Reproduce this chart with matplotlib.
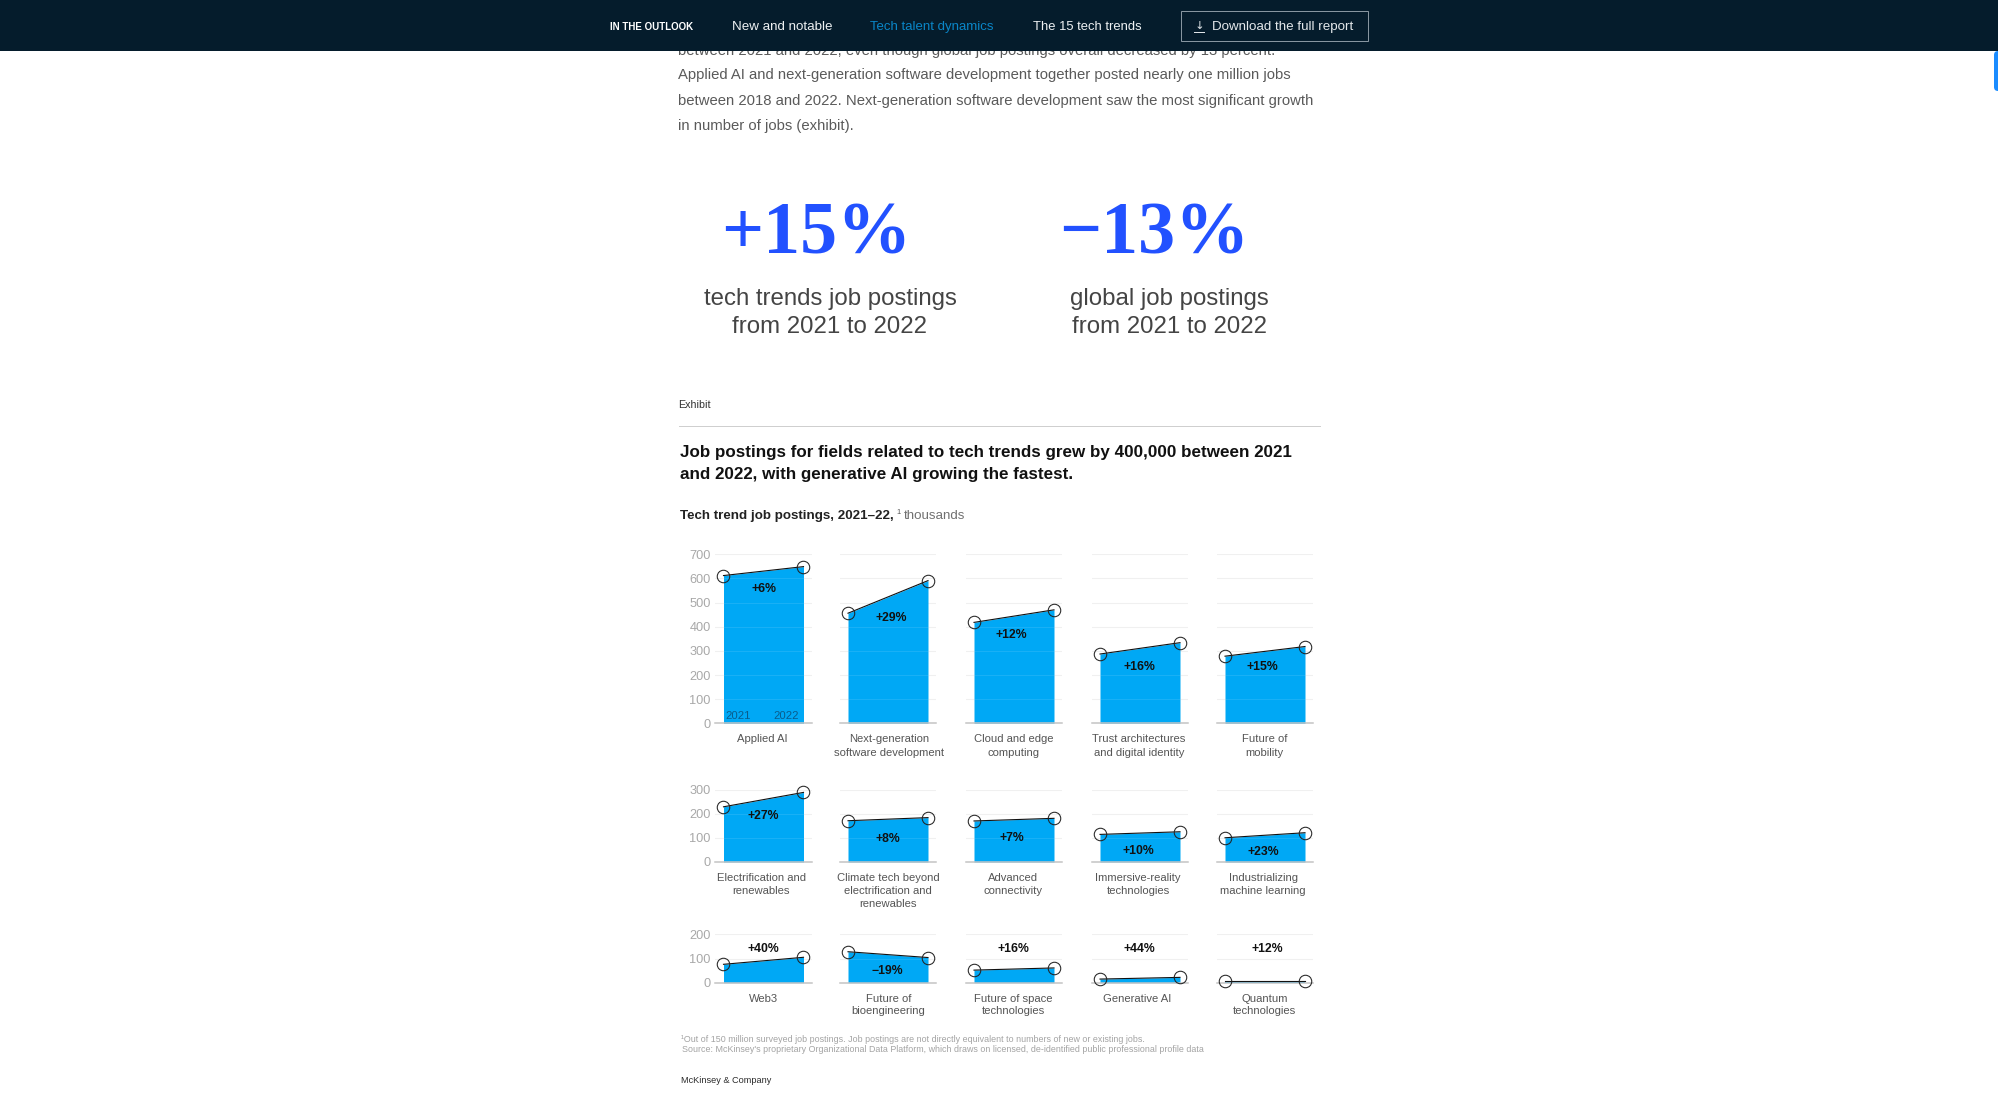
import matplotlib
matplotlib.use("Agg")
import matplotlib.pyplot as plt
from matplotlib.patches import Rectangle, FancyBboxPatch

W, H = 1999, 1096

# data, thousands of postings
row1_names = ["Applied AI", "Next-generation\nsoftware development", "Cloud and edge\ncomputing",
              "Trust architectures\nand digital identity", "Future of\nmobility"]
row1_2021 = [612, 456, 418, 287, 278]
row1_2022 = [649, 591, 470, 334, 318]
row1_pct = ["+6%", "+29%", "+12%", "+16%", "+15%"]

row2_names = ["Electrification and\nrenewables", "Climate tech beyond\nelectrification and\nrenewables",
              "Advanced\nconnectivity", "Immersive-reality\ntechnologies", "Industrializing\nmachine learning"]
row2_2021 = [230, 172, 171, 115, 101]
row2_2022 = [290, 185, 182, 126, 122]
row2_pct = ["+27%", "+8%", "+7%", "+10%", "+23%"]

row3_names = ["Web3", "Future of\nbioengineering", "Future of space\ntechnologies", "Generative AI",
              "Quantum\ntechnologies"]
row3_2021 = [76, 128, 52, 15, 8]
row3_2022 = [105, 104, 61, 22, 8]
row3_pct = ["+40%", "\u221219%", "+16%", "+44%", "+12%"]

row1_ticks = [0, 100, 200, 300, 400, 500, 600, 700]
row2_ticks = [0, 100, 200, 300]
row3_ticks = [0, 100, 200]

# layout, all in page pixels
panel_left = [715.5, 840, 966, 1092, 1217]
panel_w = 96.5
row1_box = (723.3, 554.3)
row2_box = (862, 790)
row3_box = (982.7, 934.3)
row1_name_x = [762, 889, 1013.4, 1139, 1264.5]
row2_name_x = [761.5, 888, 1013.4, 1138, 1263]
row3_name_x = [763.6, 888.5, 1013.4, 1137, 1264.5]
row1_pct_xy = [(763.6, 587), (891.6, 616.7), (1011.7, 633.3), (1139.6, 666), (1262.8, 666)]
row2_pct_xy = [(762.8, 814.3), (887.7, 837.7), (1011.7, 836.3), (1138.3, 849.3), (1263.6, 850.7)]
row3_pct_xy = [(763.6, 947.3), (887.7, 969.3), (1013.4, 947.3), (1139.2, 947.3), (1267.5, 947.3)]

SANS = ["Liberation Sans", "DejaVu Sans"]
SERIF = ["Liberation Serif", "DejaVu Serif"]
BLUE = "#00a8f5"
NAVY = "#051c2c"

fig = plt.figure(figsize=(W / 100, H / 100), dpi=100, facecolor="white")


def put(x, y, s, size, color="#222222", weight="normal", ha="left", family=SANS, zorder=3, **kw):
    # page pixels, y measured from the top, nudged to sit like the reference
    return fig.text(x / W, 1 - (y + 1.5) / H, s, fontsize=size * 0.72, color=color, fontweight=weight,
                    ha=ha, va="center", family=family, zorder=zorder, **kw)


def page_rect(x, y, w, h, zorder=5, **kw):
    fig.add_artist(Rectangle((x / W, 1 - (y + h) / H), w / W, h / H, transform=fig.transFigure,
                             zorder=zorder, **kw))


def draw_row(box, ticks, top_tick, names, v21, v22, pct, name_x, pct_xy, name_y):
    y0, ytop = box
    for i in range(5):
        ax = fig.add_axes([panel_left[i] / W, 1 - y0 / H, panel_w / W, (y0 - ytop) / H])
        ax.patch.set_alpha(0)
        x = [0, 1]
        vals = [v21[i], v22[i]]
        ax.fill_between(x, [0, 0], vals, color=BLUE, lw=0, zorder=1)
        for t in ticks[1:]:
            ax.axhline(t, color="#f0f0f0", lw=0.8, zorder=0.5)
            ax.plot(x, [t, t], color="white", lw=0.8, alpha=0.1 if t < min(vals) else 0, zorder=2)
        ax.axhline(0, color="#c4c4c4", lw=1.1, zorder=2, clip_on=False)
        ax.plot(x, vals, color="#111111", lw=0.8, zorder=3, clip_on=False)
        ax.plot(x, vals, ls="none", marker="o", ms=9.0, mfc="none", mec="#222222", mew=0.75,
                zorder=4, clip_on=False)
        ax.set_xlim(-8 / 80, 88.5 / 80)
        ax.set_ylim(0, top_tick)
        for s in ax.spines.values():
            s.set_visible(False)
        ax.set_xticks([])
        if i == 0:
            ax.set_yticks(ticks)
            ax.tick_params(axis="y", length=0, pad=3.5, labelcolor="#a8a8a8", labelsize=9.2)
            for lab in ax.get_yticklabels():
                lab.set_family(SANS)
        else:
            ax.set_yticks([])
        for j, line in enumerate(names[i].split("\n")):
            put(name_x[i], name_y + j * 13, line, 11.2, color="#555555", ha="center")
        put(pct_xy[i][0], pct_xy[i][1], pct[i], 12.2, color="#111111", weight="bold", ha="center", zorder=6)


# nav bar
page_rect(0, 0, W, 51, facecolor=NAVY, edgecolor="none", zorder=5)
put(610, 25.5, "IN THE OUTLOOK", 9.8, color="white", weight="bold", zorder=6)
put(732, 25.5, "New and notable", 13.4, color="#eef1f3", zorder=6)
put(870, 25.5, "Tech talent dynamics", 13.3, color="#0a86c8", zorder=6)
put(1033, 25.5, "The 15 tech trends", 13, color="#eef1f3", zorder=6)
page_rect(1180.5, 11, 187.5, 29.5, facecolor="none", edgecolor="#8c99a4", linewidth=0.7, zorder=6)
put(1199.5, 24.5, "\u2193", 11.5, color="#dfe4e8", ha="center", family=["DejaVu Sans"], zorder=6)
page_rect(1194, 32, 11, 0.9, facecolor="#dfe4e8", edgecolor="none", zorder=6)
put(1212.5, 25.5, "Download the full report", 13.4, color="#e4e8eb", zorder=6)

# scroll tab on the right edge
fig.add_artist(FancyBboxPatch((1994 / W, 1 - 91 / H), 12 / W, 40 / H, boxstyle="round,pad=0,rounding_size=0.002",
                              transform=fig.transFigure, facecolor="#1a8cff", edgecolor="none", zorder=4,
                              mutation_aspect=W / H))

# body text, first line runs under the nav bar
body = ["between 2021 and 2022, even though global job postings overall decreased by 13 percent.",
        "Applied AI and next-generation software development together posted nearly one million jobs",
        "between 2018 and 2022. Next-generation software development saw the most significant growth",
        "in number of jobs (exhibit)."]
for k, yy in enumerate([49.5, 73.5, 99, 124.5]):
    put(678, yy, body[k], 14.95, color="#5a5a5a", zorder=2)

# big numbers
put(816, 234, "+15%", 74, color="#2251ff", weight="bold", ha="center", family=SERIF)
put(1154, 234, "\u221213%", 74, color="#2251ff", weight="bold", ha="center", family=SERIF)
put(830, 297, "tech trends job postings", 24, color="#444444", ha="center")
put(830, 325.5, "from 2021 to 2022", 24, color="#444444", ha="center")
put(1169.5, 297, "global job postings", 24, color="#444444", ha="center")
put(1169.5, 325.5, "from 2021 to 2022", 24, color="#444444", ha="center")

# exhibit header
put(678.5, 404, "Exhibit", 10.8, color="#333333")
page_rect(678.5, 425.5, 642.5, 1.2, facecolor="#cfcfcf", edgecolor="none")
put(680, 451.5, "Job postings for fields related to tech trends grew by 400,000 between 2021", 16.95,
    color="#111111", weight="bold")
put(680, 472.5, "and 2022, with generative AI growing the fastest.", 16.95, color="#111111", weight="bold")
put(680, 514.5, "Tech trend job postings, 2021\u201322,", 13.4, color="#222222", weight="bold")
put(896, 511.5, "1", 7.5, color="#555555")
put(904, 514.5, "thousands", 13.4, color="#707070")

draw_row(row1_box, row1_ticks, 700, row1_names, row1_2021, row1_2022, row1_pct, row1_name_x, row1_pct_xy, 738)
draw_row(row2_box, row2_ticks, 300, row2_names, row2_2021, row2_2022, row2_pct, row2_name_x, row2_pct_xy, 876.3)
draw_row(row3_box, row3_ticks, 200, row3_names, row3_2021, row3_2022, row3_pct, row3_name_x, row3_pct_xy, 997)

# year labels inside the first bar
put(738.5, 714.7, "2021", 11.2, color="#0a5d8c", ha="center", zorder=6)
put(785.8, 714.7, "2022", 11.2, color="#0a5d8c", ha="center", zorder=6)

# footnotes
put(681, 1038.2, "\u00b9Out of 150 million surveyed job postings. Job postings are not directly equivalent to numbers of new or existing jobs.",
    8.85, color="#a3a3a3")
put(682.5, 1048.5, "Source: McKinsey's proprietary Organizational Data Platform, which draws on licensed, de-identified public professional profile data",
    8.85, color="#a3a3a3")
put(681, 1079, "McKinsey & Company", 9.1, color="#2b2b2b")

fig.savefig("out.png", dpi=100, facecolor="white")
